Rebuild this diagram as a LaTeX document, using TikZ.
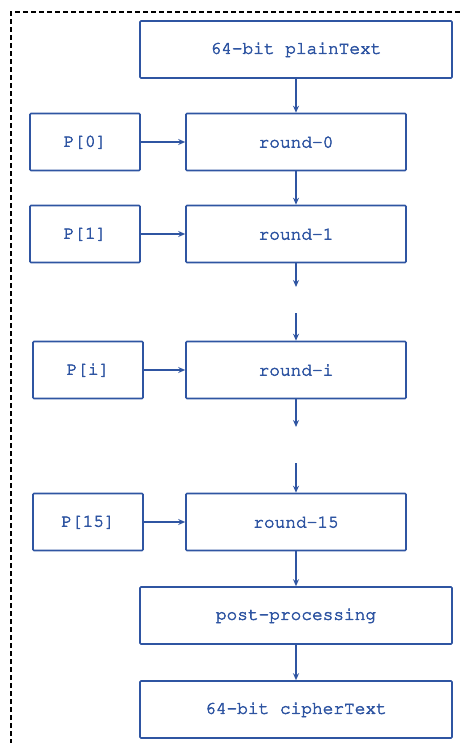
\documentclass[tikz,border=0pt]{standalone}
\usepackage[T1]{fontenc}
\usetikzlibrary{arrows.meta}
\definecolor{flowblue}{HTML}{2F55A2}
% Courier, thickened slightly by stroking the glyph outlines as well as filling them
\newcommand{\boxfont}{\fontfamily{pcr}\fontsize{17.8}{20}\selectfont}
\newcommand{\heavier}[1]{\special{pdf:literal direct 0.184 0.333 0.635 RG 2 Tr 0.55 w}#1\special{pdf:literal direct 0 Tr}}
\begin{document}
\begin{tikzpicture}[x=1pt,y=-1pt,
  box/.style={draw=flowblue, line width=1.6pt, rounded corners=1pt, rectangle,
    inner sep=0pt, text=flowblue, font=\boxfont},
  widebox/.style={box, minimum width=312pt, minimum height=57pt},
  roundbox/.style={box, minimum width=220pt, minimum height=57pt},
  keybox/.style={box, minimum width=110pt, minimum height=57pt},
  flow/.style={draw=flowblue, line width=1.6pt, -{Stealth[length=7pt,width=6pt]}}]
  \useasboundingbox (0,0) rectangle (460,743);
  % dashed enclosing frame (only top and left edges fall inside the page)
  \draw[line width=1.4pt, dash pattern=on 5pt off 3pt] (11,760) -- (11,12) -- (480,12);

  \node[widebox]  (plain)  at (296,49.5)  {\heavier{64-bit plainText}};
  \node[roundbox] (r0)     at (296,142)   {\heavier{round-0}};
  \node[keybox]   (p0)     at (85,142)    {\heavier{P[0]}};
  \node[roundbox] (r1)     at (296,234)   {\heavier{round-1}};
  \node[keybox]   (p1)     at (85,234)    {\heavier{P[1]}};
  \node[roundbox] (ri)     at (296,370)   {\heavier{round-i}};
  \node[keybox]   (pi)     at (88,370)    {\heavier{P[i]}};
  \node[roundbox] (r15)    at (296,522)   {\heavier{round-15}};
  \node[keybox]   (p15)    at (88,522)    {\heavier{P[15]}};
  \node[widebox]  (post)   at (296,615.5) {\heavier{post-processing}};
  \node[widebox]  (cipher) at (296,709.5) {\heavier{64-bit cipherText}};

  \coordinate (gapA1) at (296,287);
  \coordinate (gapA2) at (296,313);
  \coordinate (gapB1) at (296,427);
  \coordinate (gapB2) at (296,463);

  \draw[flow] (plain) -- (r0);
  \draw[flow] (r0) -- (r1);
  \draw[flow] (r1) -- (gapA1);
  \draw[flow] (gapA2) -- (ri);
  \draw[flow] (ri) -- (gapB1);
  \draw[flow] (gapB2) -- (r15);
  \draw[flow] (r15) -- (post);
  \draw[flow] (post) -- (cipher);

  \draw[flow] (p0) -- (r0);
  \draw[flow] (p1) -- (r1);
  \draw[flow] (pi) -- (ri);
  \draw[flow] (p15) -- (r15);
\end{tikzpicture}
\end{document}
